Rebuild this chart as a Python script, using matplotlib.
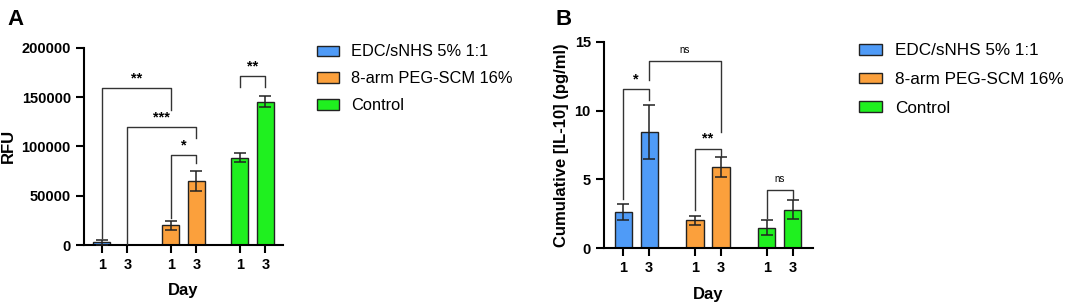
import matplotlib.pyplot as plt
import numpy as np

plt.rcParams['font.family'] = ['Liberation Sans', 'DejaVu Sans']

groups = ['EDC/sNHS 5% 1:1', '8-arm PEG-SCM 16%', 'Control']
colors = ['#4f9bf7', '#fba03c', '#1ff01f']
days = ['1', '3']

# panel A: RFU
rfu_mean = [[3000, 500], [20000, 65000], [88500, 145500]]
rfu_err = [[2600, 0], [4700, 10300], [4700, 5600]]
# brackets: (bar i, bar j, height, left leg end, right leg end, label)
rfu_sig = [(0, 2, 158900, 7000, 137000, '**'),
           (1, 3, 119300, 1500, 108200, '***'),
           (2, 3, 91300, 27000, 82800, '*'),
           (4, 5, 171400, 160000, 160000, '**')]

# panel B: IL-10
il10_mean = [[2.66, 8.42], [2.03, 5.90], [1.50, 2.81]]
il10_err = [[0.58, 1.97], [0.34, 0.74], [0.55, 0.69]]
il10_sig = [(0, 1, 11.54, 3.56, 10.76, '*'),
            (1, 3, 13.6, 12.2, 8.47, 'ns'),
            (2, 3, 7.21, 2.78, 6.65, '**'),
            (4, 5, 4.23, 2.18, 3.56, 'ns')]

fig = plt.figure(figsize=(10.65, 3.06), dpi=100)


def panel(rect, means, errs, sigs, gap, xlim, ylim, yticks, ylabel, letter, lx,
          leg_pos, leg_fs, leg_sp):
    ax = fig.add_axes(rect)
    xs = []
    for g in range(3):
        for d in range(2):
            x = g * gap + d
            xs.append(x)
            ax.bar(x, means[g][d], width=0.66, color=colors[g], edgecolor='#222222',
                   linewidth=1.0, label=groups[g] if d == 0 else None, zorder=2)
            if errs[g][d] > 0:
                ax.errorbar(x, means[g][d], yerr=errs[g][d], color='#222222',
                            capsize=4, elinewidth=1.1, capthick=1.1, zorder=3)
    span = ylim[1] - ylim[0]
    for i, j, h, l1, l2, lab in sigs:
        ax.plot([xs[i], xs[i], xs[j], xs[j]], [l1, h, h, l2], color='#333333',
                lw=1.0, zorder=4)
        if lab == 'ns':
            ax.text((xs[i] + xs[j]) / 2, h + span * 0.03, lab, ha='center',
                    va='bottom', fontsize=7)
        else:
            ax.text((xs[i] + xs[j]) / 2, h + span * 0.015, lab, ha='center',
                    va='bottom', fontsize=10.5, fontweight='bold')
    ax.set_xlim(*xlim)
    ax.set_ylim(*ylim)
    ax.set_yticks(yticks)
    ax.set_xticks(xs)
    ax.set_xticklabels(days * 3)
    for s in ['top', 'right']:
        ax.spines[s].set_visible(False)
    for s in ['left', 'bottom']:
        ax.spines[s].set_linewidth(1.5)
    ax.tick_params(width=1.5, length=6, labelsize=10.5)
    for t in ax.get_xticklabels() + ax.get_yticklabels():
        t.set_fontweight('bold')
    ax.set_xlabel('Day', fontsize=12, fontweight='bold', labelpad=8)
    ax.set_ylabel(ylabel, fontsize=12, fontweight='bold')
    fig.text(lx, 0.97, letter, fontsize=16, fontweight='bold', va='top')
    ax.legend(loc='upper left', bbox_to_anchor=leg_pos, bbox_transform=fig.transFigure,
              frameon=False, fontsize=leg_fs, borderpad=0, borderaxespad=0,
              handlelength=1.34, handleheight=0.6, labelspacing=leg_sp,
              handletextpad=0.75)
    return ax


panel([0.0789, 0.199, 0.187, 0.645], rfu_mean, rfu_err, rfu_sig, 2.7,
      (-0.7, 7.1), (0, 200000), [0, 50000, 100000, 150000, 200000], 'RFU', 'A',
      0.007, (0.2977, 0.8546), 11.8, 0.73)
panel([0.5671, 0.1886, 0.1963, 0.675], il10_mean, il10_err, il10_sig, 2.76,
      (-0.74, 7.3), (0, 15), [0, 5, 10, 15], 'Cumulative [IL-10] (pg/ml)', 'B',
      0.522, (0.8066, 0.859), 12.3, 0.81)

fig.savefig('out.png', dpi=100)
